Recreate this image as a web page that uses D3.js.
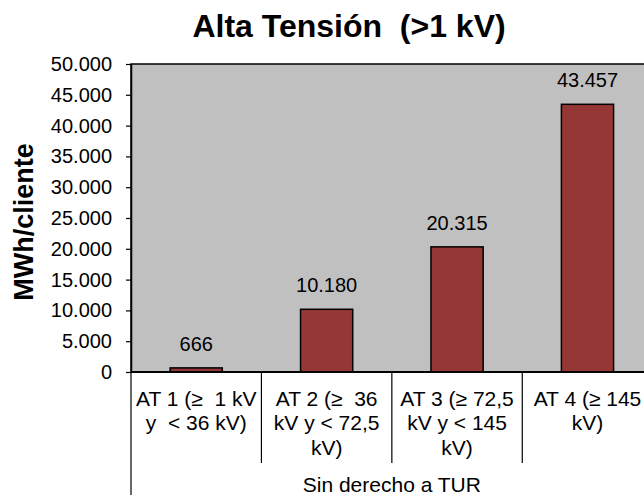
<!DOCTYPE html>
<html>
<head>
<meta charset="utf-8">
<script src="https://cdn.jsdelivr.net/npm/d3@7"></script>
<style>
  html, body { margin: 0; padding: 0; background: #ffffff; }
  svg { display: block; }
  text { font-family: "Liberation Sans", Arial, sans-serif; fill: #000; white-space: pre; }
</style>
</head>
<body>
<svg id="chart" width="644" height="495"></svg>
<script>
const title = "Alta Tensión  (>1 kV)";
const yAxisTitle = "MWh/cliente";
const groupLabel = "Sin derecho a TUR";
const categories = ["AT1", "AT2", "AT3", "AT4"];
const categoryLabelLines = [
  ["AT 1 (≥  1 kV", "y  < 36 kV)"],
  ["AT 2 (≥  36", "kV y < 72,5", "kV)"],
  ["AT 3 (≥ 72,5", "kV y < 145", "kV)"],
  ["AT 4 (≥ 145", "kV)"]
];
const values = [666, 10180, 20315, 43457];
const yTicks = [0, 5000, 10000, 15000, 20000, 25000, 30000, 35000, 40000, 45000, 50000];

const locale = d3.formatLocale({decimal: ",", thousands: ".", grouping: [3], currency: ["", ""]});
const fmt = locale.format(",d");

const svg = d3.select("#chart");
const plotLeft = 131, plotRight = 652.7, plotTop = 64, plotBottom = 372;

const x = d3.scaleBand().domain(categories).range([plotLeft, plotRight])
  .paddingInner(0.6).paddingOuter(0.3);
const y = d3.scaleLinear().domain([0, 50000]).range([plotBottom, plotTop]);

// plot background
svg.append("rect")
  .attr("x", plotLeft).attr("y", plotTop)
  .attr("width", plotRight - plotLeft).attr("height", plotBottom - plotTop)
  .attr("fill", "#c0c0c0").attr("stroke", "#000").attr("stroke-width", 1.5);

// bars
svg.selectAll("rect.bar").data(values).enter().append("rect")
  .attr("class", "bar")
  .attr("x", (d, i) => x(categories[i]))
  .attr("y", d => y(d))
  .attr("width", x.bandwidth())
  .attr("height", d => y(0) - y(d))
  .attr("fill", "#953735").attr("stroke", "#000").attr("stroke-width", 1.5);

// data labels
svg.selectAll("text.val").data(values).enter().append("text")
  .attr("class", "val")
  .attr("x", (d, i) => x(categories[i]) + x.bandwidth() / 2)
  .attr("y", d => y(d) - 17)
  .attr("text-anchor", "middle")
  .attr("font-size", 20)
  .text(d => fmt(d));

// y axis
const yAxis = d3.axisLeft(y).tickValues(yTicks).tickFormat(d => fmt(d))
  .tickSize(5).tickSizeOuter(0).tickPadding(14);
const gy = svg.append("g").attr("transform", `translate(${plotLeft},0)`).call(yAxis);
gy.select(".domain").attr("stroke", "#000").attr("stroke-width", 1.5);
gy.selectAll(".tick line").attr("stroke", "#000").attr("stroke-width", 1.2);
gy.selectAll(".tick text").attr("font-size", 20)
  .attr("font-family", "Liberation Sans, Arial, sans-serif").attr("fill", "#000");

// x axis baseline
svg.append("line").attr("x1", plotLeft).attr("x2", plotRight)
  .attr("y1", y(0)).attr("y2", y(0)).attr("stroke", "#000").attr("stroke-width", 2);

// category separators
const step = x.step();
const boundaries = d3.range(categories.length + 1).map(i => plotLeft + i * step);
svg.selectAll("line.sep").data(boundaries).enter().append("line")
  .attr("class", "sep")
  .attr("x1", d => d).attr("x2", d => d)
  .attr("y1", y(0))
  .attr("y2", (d, i) => (i === 0 || i === categories.length) ? 495 : 463)
  .attr("stroke", "#000").attr("stroke-width", 1.2);

// category labels
categoryLabelLines.forEach((lines, i) => {
  const cx = x(categories[i]) + x.bandwidth() / 2;
  const t = svg.append("text").attr("text-anchor", "middle").attr("font-size", 21);
  lines.forEach((ln, j) => {
    t.append("tspan").attr("x", cx).attr("y", 406 + j * 24.4).text(ln);
  });
});

// group label
svg.append("text")
  .attr("x", (plotLeft + plotRight) / 2).attr("y", 492)
  .attr("text-anchor", "middle").attr("font-size", 21)
  .text(groupLabel);

// title
svg.append("text")
  .attr("x", 349).attr("y", 37)
  .attr("text-anchor", "middle").attr("font-size", 32).attr("font-weight", "bold")
  .text(title);

// y axis title
svg.append("text")
  .attr("transform", "translate(33,222) rotate(-90)")
  .attr("text-anchor", "middle").attr("font-size", 27).attr("font-weight", "bold")
  .text(yAxisTitle);
</script>
</body>
</html>
